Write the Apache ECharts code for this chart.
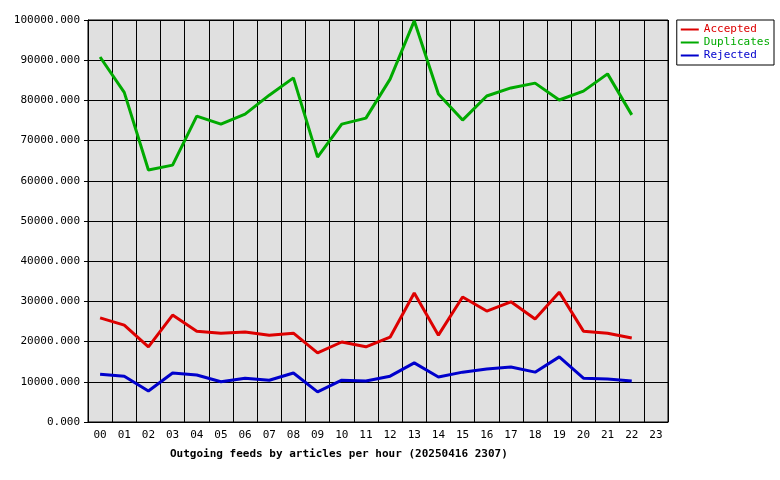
<!DOCTYPE html>
<html><head><meta charset="utf-8">
<script src="https://cdn.jsdelivr.net/npm/echarts@6/dist/echarts.min.js"></script>
<style>html,body{margin:0;background:#fff}#c{width:780px;height:480px}</style>
</head><body><div id="c"></div>
<script>
var hours = ['00','01','02','03','04','05','06','07','08','09','10','11','12','13','14','15','16','17','18','19','20','21','22','23'];
var accepted = [25900,24100,18700,26600,22600,22100,22400,21600,22100,17200,19900,18700,21100,32100,21600,31100,27600,29900,25600,32300,22600,22100,20900];
var duplicates = [90800,82000,62700,63900,76100,74100,76600,81300,85600,65900,74100,75600,85300,99800,81600,75100,81100,83100,84300,80100,82300,86600,76400];
var rejected = [11900,11400,7700,12200,11700,10000,10900,10400,12200,7500,10400,10200,11400,14700,11200,12400,13200,13700,12400,16200,10900,10700,10200];

var font = 'DejaVu Sans Mono';
var chart = echarts.init(document.getElementById('c'));
function mk(name, data, color) {
    return { name: name, type: 'line', data: data, symbol: 'none',
        lineStyle: { color: color, width: 3 }, itemStyle: { color: color } };
}
chart.setOption({
    animation: false,
    textStyle: { fontFamily: font },
    grid: { left: 88, right: 112, top: 20, bottom: 58, show: true,
        backgroundColor: '#e0e0e0', borderColor: '#000', borderWidth: 1 },
    title: { text: 'Outgoing feeds by articles per hour (20250416 2307)',
        left: 165, top: 444, textStyle: { fontFamily: font, fontSize: 11, fontWeight: 'bold', color: '#000' } },
    legend: { orient: 'vertical', right: 6, top: 20, backgroundColor: '#fff',
        borderColor: '#000', borderWidth: 1, padding: [4, 4], itemGap: 2,
        itemWidth: 18, itemHeight: 2, icon: 'rect',
        data: [
            { name: 'Accepted', textStyle: { color: '#d00' } },
            { name: 'Duplicates', textStyle: { color: '#0a0' } },
            { name: 'Rejected', textStyle: { color: '#00c' } }
        ],
        textStyle: { fontFamily: font, fontSize: 11 } },
    xAxis: { type: 'category', data: hours, boundaryGap: true,
        axisLine: { lineStyle: { color: '#000' } },
        axisTick: { show: false },
        splitLine: { show: true, interval: 0, lineStyle: { color: '#000' } },
        axisLabel: { color: '#000', fontFamily: font, fontSize: 11, interval: 0 } },
    yAxis: { type: 'value', min: 0, max: 100000, interval: 10000,
        axisLine: { show: true, lineStyle: { color: '#000' } },
        axisTick: { show: true, length: 4, lineStyle: { color: '#000' } },
        splitLine: { lineStyle: { color: '#000' } },
        axisLabel: { color: '#000', fontFamily: font, fontSize: 11,
            formatter: function (v) { return v.toFixed(3); } } },
    series: [mk('Accepted', accepted, '#d00'), mk('Duplicates', duplicates, '#0a0'), mk('Rejected', rejected, '#00c')]
});
</script></body></html>
